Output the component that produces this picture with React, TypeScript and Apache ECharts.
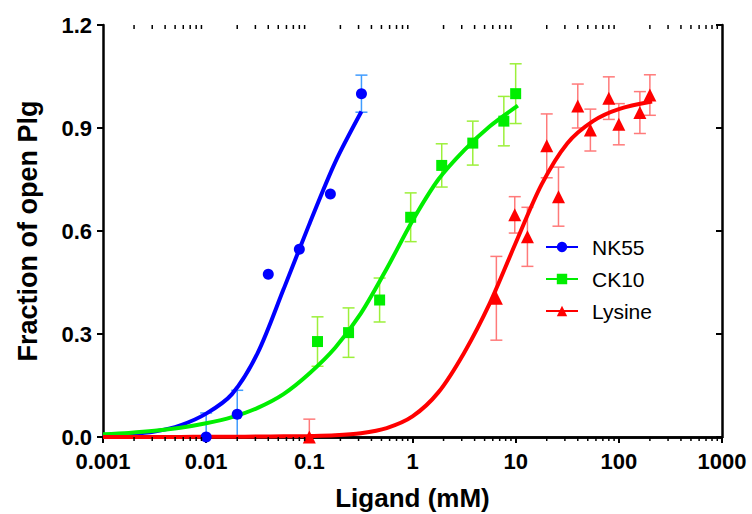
import React, { useEffect, useRef } from "react";
import * as echarts from "echarts";

// Measured data (x in mM, y fraction, err = +/- error)
const nk55X = [0.01, 0.02, 0.04, 0.08, 0.16, 0.32];
const nk55Y = [0.0, 0.066, 0.474, 0.547, 0.708, 1.0];
const nk55Err = [0.07, 0.07, 0, 0, 0, 0.054];

const ck10X = [0.12, 0.24, 0.48, 0.96, 1.92, 3.84, 7.68, 10];
const ck10Y = [0.278, 0.304, 0.399, 0.64, 0.791, 0.856, 0.92, 1.0];
const ck10Err = [0.072, 0.072, 0.064, 0.071, 0.063, 0.064, 0.072, 0.087];

const lysX = [0.1, 6.5, 9.8, 13, 20, 26, 40, 53, 80, 100, 160, 200];
const lysY = [0.0, 0.404, 0.647, 0.583, 0.848, 0.7, 0.964, 0.894, 0.987, 0.911, 0.945, 0.996];
const lysErr = [0.052, 0.122, 0.053, 0.086, 0.093, 0.086, 0.064, 0.061, 0.062, 0.06, 0.061, 0.059];

// Fitted curves (quarter-decade steps)
const nk55FitX = [0.001, 0.00178, 0.00316, 0.00562, 0.01, 0.0178, 0.0316, 0.0562, 0.1, 0.178, 0.32];
const nk55FitY = [0.004, 0.008, 0.016, 0.034, 0.068, 0.125, 0.245, 0.43, 0.62, 0.8, 0.948];

const ck10FitX = [0.001, 0.00178, 0.00316, 0.00562, 0.01, 0.0178, 0.0316, 0.0562, 0.1, 0.178, 0.316, 0.562, 1, 1.78, 3.16, 5.62, 10.5];
const ck10FitY = [0.008, 0.012, 0.018, 0.027, 0.04, 0.058, 0.085, 0.125, 0.185, 0.26, 0.36, 0.49, 0.63, 0.75, 0.835, 0.905, 0.965];

const lysFitX = [0.001, 0.00178, 0.00316, 0.00562, 0.01, 0.0178, 0.0316, 0.0562, 0.1, 0.178, 0.316, 0.562, 1, 1.78, 3.16, 5.62, 10, 17.8, 31.6, 56.2, 100, 210];
const lysFitY = [0.0, 0.0001, 0.0002, 0.0003, 0.0005, 0.0008, 0.0012, 0.002, 0.003, 0.005, 0.011, 0.026, 0.06, 0.13, 0.245, 0.39, 0.565, 0.735, 0.855, 0.92, 0.955, 0.977];

// Axis
const xMin = 0.001;
const xMax = 1000;
const yMin = 0;
const yMax = 1.2;
const yStep = 0.3;
const decades = [0.001, 0.01, 0.1, 1, 10, 100];
const minorMultipliers = [2, 3, 4, 5, 6, 7, 8, 9];

const seriesNames = ["NK55", "CK10", "Lysine"];
const colors = ["#0000ff", "#00ee00", "#ff0000"];
const errColors = ["#3f9cff", "#9cf03a", "#ff7a7a"];
const symbols = ["circle", "rect", "triangle"];
const symbolSizes = [11, 11, 13];

const FONT = "'Liberation Sans', Arial, Helvetica, sans-serif";

const zip = (xs: number[], ys: number[]) => xs.map((x, i) => [x, ys[i]]);

function errorBarSeries(xs: number[], ys: number[], errs: number[], color: string) {
  return {
    type: "custom",
    silent: true,
    z: 1,
    data: xs.map((x, i) => [x, ys[i], errs[i]]).filter((d) => d[2] > 0),
    encode: { x: 0, y: 1 },
    renderItem: (params: any, api: any) => {
      const x = api.value(0);
      const y = api.value(1);
      const e = api.value(2);
      const hi = api.coord([x, y + e]);
      const loVal = y - e;
      const lo = api.coord([x, Math.max(loVal, yMin)]);
      const cap = 6;
      const style = { stroke: color, lineWidth: 1.5 };
      const children: any[] = [
        { type: "line", shape: { x1: hi[0], y1: hi[1], x2: lo[0], y2: lo[1] }, style },
        { type: "line", shape: { x1: hi[0] - cap, y1: hi[1], x2: hi[0] + cap, y2: hi[1] }, style },
      ];
      if (loVal >= yMin) {
        children.push({ type: "line", shape: { x1: lo[0] - cap, y1: lo[1], x2: lo[0] + cap, y2: lo[1] }, style });
      }
      return { type: "group", children };
    },
  };
}

export default function App() {
  const ref = useRef<HTMLDivElement>(null);

  useEffect(() => {
    if (!ref.current) return;
    const chart = echarts.init(ref.current, undefined, { renderer: "svg" });

    const minorTicks: number[] = [];
    decades.forEach((d) => minorMultipliers.forEach((m) => minorTicks.push(d * m)));

    const xLabel = (v: number) => {
      const e = Math.round(Math.log10(v));
      return e < 0 ? Math.pow(10, e).toFixed(-e) : String(Math.round(Math.pow(10, e)));
    };

    const axisLine = { show: true, lineStyle: { color: "#000", width: 2.5 } };

    const fits = [
      zip(nk55FitX, nk55FitY),
      zip(ck10FitX, ck10FitY),
      zip(lysFitX, lysFitY),
    ];
    const points = [zip(nk55X, nk55Y), zip(ck10X, ck10Y), zip(lysX, lysY)];

    const option: any = {
      animation: false,
      backgroundColor: "#ffffff",
      textStyle: { fontFamily: FONT },
      grid: { left: 103, right: 30, top: 25, bottom: 77, containLabel: false, outerBoundsMode: "none" },
      legend: {
        data: seriesNames,
        orient: "vertical",
        left: 540,
        top: 231,
        itemWidth: 32,
        itemHeight: 13,
        itemGap: 10,
        selectedMode: false,
        textStyle: { fontSize: 21, color: "#000", fontFamily: FONT, lineHeight: 22, padding: [0, 0, 0, 9] },
      },
      xAxis: [
        {
          type: "log",
          logBase: 10,
          min: xMin,
          max: xMax,
          position: "bottom",
          name: "Ligand (mM)",
          nameLocation: "middle",
          nameGap: 48,
          nameTextStyle: { fontSize: 26, fontWeight: "bold", color: "#000", fontFamily: FONT },
          axisLine,
          axisTick: { show: true, inside: false, length: 6, lineStyle: { color: "#000", width: 2 } },
          axisLabel: { fontSize: 22, fontWeight: "bold", color: "#000", margin: 13, formatter: xLabel, fontFamily: FONT },
          splitLine: { show: false },
          minorTick: { show: false },
        },
        {
          type: "log",
          logBase: 10,
          min: xMin,
          max: xMax,
          position: "top",
          axisLine,
          axisTick: { show: true, inside: true, length: 6, lineStyle: { color: "#000", width: 2 } },
          axisLabel: { show: false },
          splitLine: { show: false },
        },
      ],
      yAxis: [
        {
          type: "value",
          min: yMin,
          max: yMax,
          interval: yStep,
          position: "left",
          name: "Fraction of open Plg",
          nameLocation: "middle",
          nameRotate: 90,
          nameGap: 62,
          nameTextStyle: { fontSize: 27, fontWeight: "bold", color: "#000", fontFamily: FONT },
          axisLine,
          axisTick: { show: true, inside: false, length: 6, lineStyle: { color: "#000", width: 2 } },
          axisLabel: { fontSize: 22, fontWeight: "bold", color: "#000", margin: 11, formatter: (v: number) => v.toFixed(1), fontFamily: FONT },
          splitLine: { show: false },
        },
        {
          type: "value",
          min: yMin,
          max: yMax,
          interval: yStep,
          position: "right",
          axisLine,
          axisTick: { show: true, inside: true, length: 6, lineStyle: { color: "#000", width: 2 } },
          axisLabel: { show: false },
          splitLine: { show: false },
        },
      ],
      series: [
        // minor ticks on bottom and top x axes
        {
          type: "custom",
          silent: true,
          clip: false,
          z: 5,
          data: minorTicks.map((v) => [v, yMin]),
          encode: { x: 0, y: 1 },
          renderItem: (params: any, api: any) => {
            const v = api.value(0);
            const b = api.coord([v, yMin]);
            const t = api.coord([v, yMax]);
            const style = { stroke: "#000", lineWidth: 1.5 };
            return {
              type: "group",
              children: [
                { type: "line", shape: { x1: b[0], y1: b[1], x2: b[0], y2: b[1] + 4 }, style },
                { type: "line", shape: { x1: t[0], y1: t[1], x2: t[0], y2: t[1] + 4 }, style },
              ],
            };
          },
        },
        errorBarSeries(nk55X, nk55Y, nk55Err, errColors[0]),
        errorBarSeries(ck10X, ck10Y, ck10Err, errColors[1]),
        errorBarSeries(lysX, lysY, lysErr, errColors[2]),
        ...seriesNames.map((name, i) => ({
          name,
          type: "line",
          data: fits[i],
          smooth: 0.3,
          showSymbol: false,
          symbol: symbols[i],
          symbolSize: symbolSizes[i],
          z: 3,
          color: colors[i],
          lineStyle: { color: colors[i], width: 4 },
          itemStyle: { color: colors[i] },
        })),
        ...seriesNames.map((name, i) => ({
          name: name + " data",
          type: "scatter",
          data: points[i],
          symbol: symbols[i],
          symbolSize: symbolSizes[i],
          z: 4,
          itemStyle: { color: colors[i], opacity: 1 },
        })),
      ],
    };

    chart.setOption(option);
    return () => chart.dispose();
  }, []);

  return <div ref={ref} style={{ width: 752, height: 514, position: "absolute", left: 0, top: 0, background: "#fff" }} />;
}
